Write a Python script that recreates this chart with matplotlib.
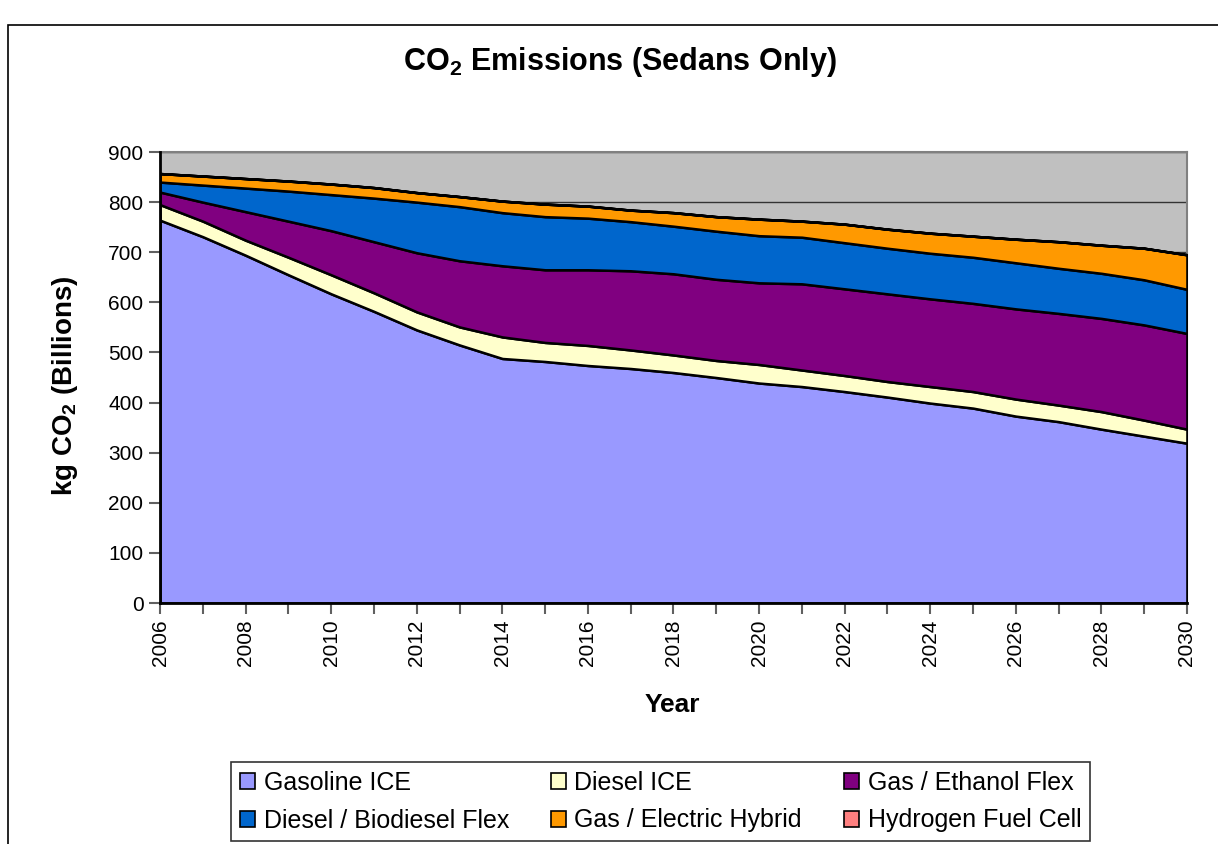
"""Stacked area chart of sedan CO2 emissions by drivetrain, 2006-2030."""

import matplotlib
matplotlib.use("Agg")
import matplotlib.pyplot as plt
from matplotlib.patches import Rectangle

plt.rcParams["font.family"] = ["Liberation Sans", "DejaVu Sans"]
plt.rcParams["mathtext.fontset"] = "custom"
plt.rcParams["mathtext.rm"] = "Liberation Sans:bold"
plt.rcParams["mathtext.bf"] = "Liberation Sans:bold"

years = list(range(2006, 2031))

gasoline_ice = [764, 731, 694, 655, 617, 582, 545, 515, 488, 482, 474, 468, 460,
                450, 439, 432, 422, 411, 399, 389, 373, 362, 347, 333, 319]
diesel_ice = [31, 31, 30, 35, 38, 37, 36, 36, 43, 38, 40, 37, 35,
              34, 37, 33, 32, 31, 33, 33, 34, 33, 35, 32, 28]
gas_ethanol = [25, 38, 57, 72, 88, 102, 118, 132, 142, 145, 151, 158, 162,
               162, 163, 172, 173, 175, 175, 176, 180, 183, 186, 190, 191]
diesel_biodiesel = [20, 34, 47, 60, 72, 87, 101, 108, 106, 106, 103, 98, 95,
                    96, 94, 93, 92, 91, 91, 92, 92, 90, 90, 90, 88]
gas_electric = [17, 18, 19, 20, 21, 21, 19, 20, 23, 25, 24, 23, 27,
                29, 33, 32, 37, 38, 40, 42, 47, 53, 56, 63, 69]
hydrogen = [0] * 25

labels = ["Gasoline ICE", "Diesel ICE", "Gas / Ethanol Flex",
          "Diesel / Biodiesel Flex", "Gas / Electric Hybrid", "Hydrogen Fuel Cell"]
colors = ["#9999FF", "#FFFFCC", "#800080", "#0066CC", "#FF9900", "#FF8080"]

fig = plt.figure(figsize=(12.18, 8.44), dpi=100)
ax = fig.add_axes([0.1314, 0.2855, 0.8431, 0.5344])
ax.set_facecolor("#C0C0C0")

polys = ax.stackplot(years, gasoline_ice, diesel_ice, gas_ethanol, diesel_biodiesel,
                     gas_electric, hydrogen, labels=labels, colors=colors,
                     edgecolor="black", linewidth=1.8, zorder=3)

ax.set_xlim(2006, 2030)
ax.set_ylim(0, 900)
ax.set_yticks(range(0, 901, 100))
ax.set_xticks(range(2006, 2031, 2))
ax.set_xticks(range(2006, 2031), minor=True)
ax.set_xticklabels([str(y) for y in range(2006, 2031, 2)], rotation=90)
ax.tick_params(axis="both", which="both", direction="out", length=8,
               width=1.5, color="#606060", labelsize=15)
ax.tick_params(axis="y", pad=4)
ax.tick_params(axis="x", pad=4)
ax.grid(True, axis="y", color="#333333", linewidth=1, zorder=1)
ax.set_axisbelow(True)

for side in ["left", "bottom"]:
    ax.spines[side].set_color("black")
    ax.spines[side].set_linewidth(2)
    ax.spines[side].set_zorder(4)
for side in ["top", "right"]:
    ax.spines[side].set_color("#808080")
    ax.spines[side].set_linewidth(1.5)

fig.text(0.509, 0.927, r"CO$_\mathrm{2}$ Emissions (Sedans Only)",
         ha="center", va="center", fontsize=22, fontweight="bold")
fig.text(0.0534, 0.5427, r"kg CO$_\mathrm{2}$ (Billions)", rotation=90,
         ha="center", va="center", fontsize=20, fontweight="bold")
fig.text(0.552, 1 - 705 / 844, "Year", ha="center", va="center",
         fontsize=19, fontweight="bold")

# Excel fills the legend row by row, matplotlib column by column
order = [0, 3, 1, 4, 2, 5]
leg = fig.legend([polys[i] for i in order], [labels[i] for i in order],
                 loc="upper left",
                 bbox_to_anchor=(231 / 1218, 1 - 840 / 844, 859 / 1218, 78 / 844),
                 mode="expand", ncol=3, fontsize=18, frameon=True, fancybox=False,
                 handlelength=0.6, handleheight=0.6, handletextpad=0.35,
                 columnspacing=0.5, labelspacing=0.55, borderpad=0.35,
                 borderaxespad=0)
leg.get_frame().set_edgecolor("black")
leg.get_frame().set_linewidth(1.2)
for h in leg.legend_handles:
    h.set_linewidth(1.2)

fig.patches.append(Rectangle((8 / 1218, -0.1), 1.2, 0.1 + 1 - 25 / 844,
                             transform=fig.transFigure, fill=False,
                             edgecolor="black", linewidth=1.2))

fig.savefig("out.png", dpi=100)
